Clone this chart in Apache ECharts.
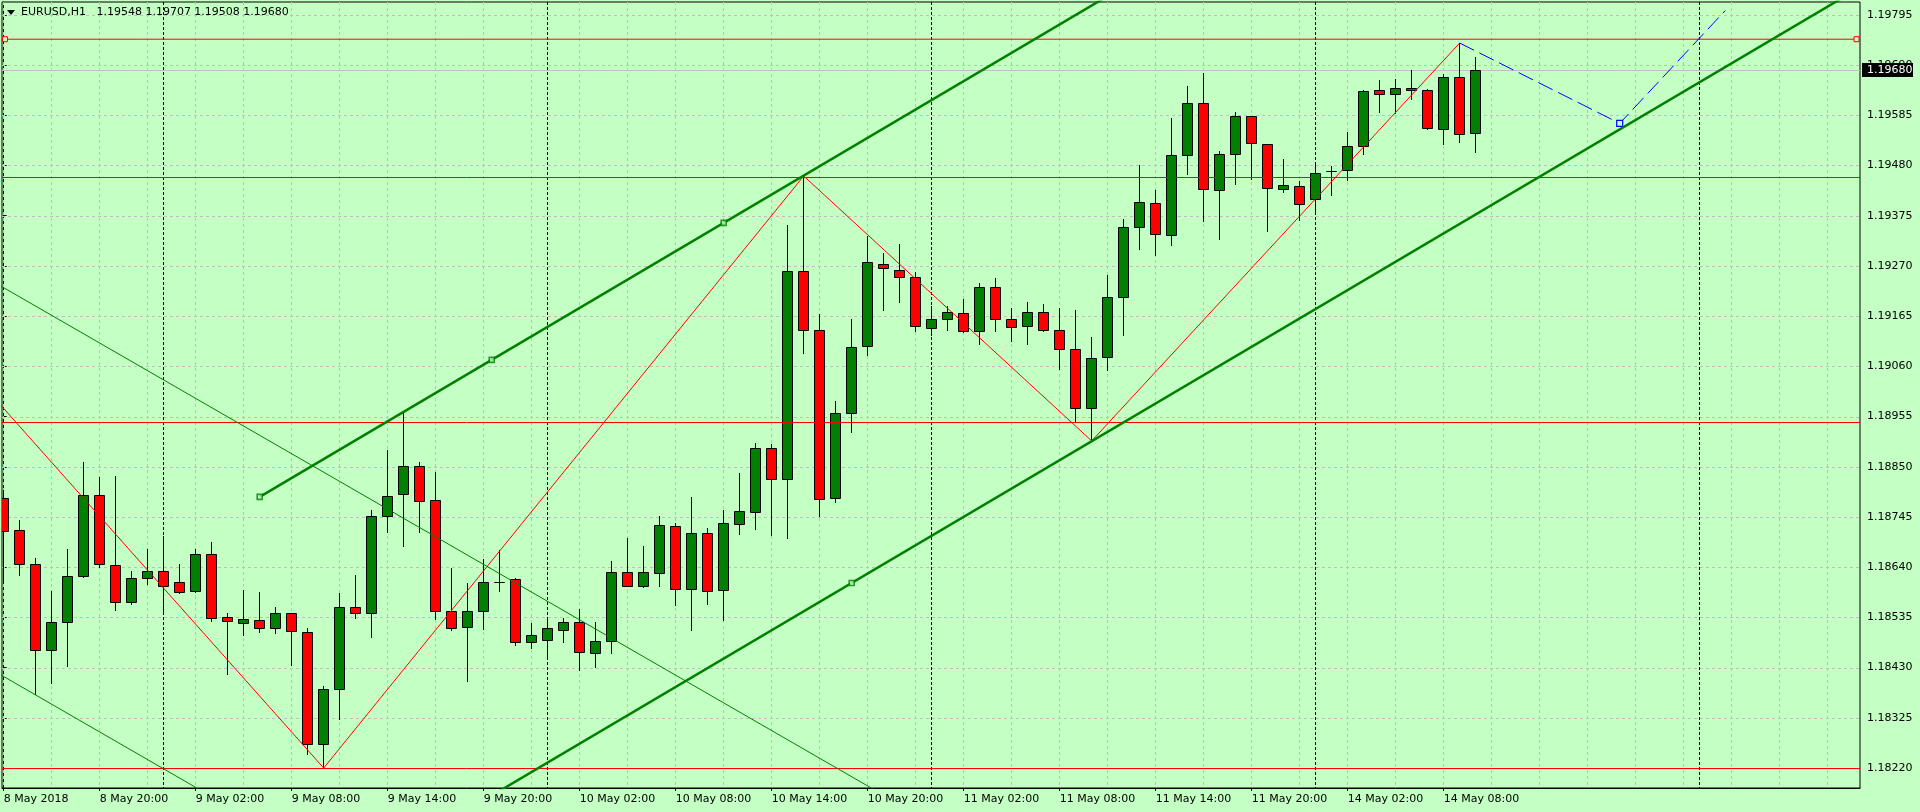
<!DOCTYPE html>
<html>
<head>
<meta charset="utf-8">
<script src="https://cdn.jsdelivr.net/npm/echarts@6/dist/echarts.min.js"></script>
<style>
html,body{margin:0;padding:0;background:#C4FFC4;}
#c{width:1920px;height:812px;}
</style>
</head>
<body>
<div id="c"></div>
<script>
// ---------- DATA (EURUSD H1, bar index 0 = 8 May 2018 14:00) ----------
const opens = [1.18784,1.18717,1.18646,1.18466,1.18525,1.18621,1.18790,1.18644,1.18568,1.18617,
1.18631,1.18610,1.18591,1.18667,1.18535,1.18524,1.18529,1.18513,1.18544,1.18504,
1.18271,1.18385,1.18556,1.18544,1.18746,1.18792,1.18851,1.18780,1.18548,1.18514,
1.18548,1.18608,1.18615,1.18483,1.18487,1.18508,1.18525,1.18460,1.18485,1.18629,
1.18600,1.18627,1.18726,1.18594,1.18711,1.18592,1.18730,1.18755,1.18889,1.18824,
1.19259,1.19135,1.18784,1.18962,1.19102,1.19275,1.19261,1.19246,1.19140,1.19159,
1.19171,1.19133,1.19225,1.19159,1.19144,1.19173,1.19137,1.19096,1.18972,1.19079,
1.19206,1.19351,1.19401,1.19334,1.19501,1.19610,1.19428,1.19505,1.19583,1.19524,
1.19430,1.19437,1.19409,1.19468,1.19470,1.19520,1.19637,1.19629,1.19641,1.19637,
1.19556,1.19664,1.19548];
const closes = [1.18716,1.18646,1.18466,1.18525,1.18622,1.18790,1.18646,1.18567,1.18617,1.18633,
1.18601,1.18589,1.18667,1.18534,1.18527,1.18531,1.18513,1.18544,1.18506,1.18271,
1.18385,1.18556,1.18544,1.18746,1.18788,1.18851,1.18778,1.18548,1.18512,1.18548,
1.18608,1.18608,1.18483,1.18498,1.18512,1.18525,1.18462,1.18485,1.18629,1.18600,
1.18629,1.18728,1.18594,1.18711,1.18590,1.18732,1.18757,1.18889,1.18824,1.19259,
1.19137,1.18782,1.18962,1.19100,1.19278,1.19265,1.19246,1.19144,1.19159,1.19173,
1.19133,1.19225,1.19159,1.19142,1.19173,1.19137,1.19096,1.18972,1.19077,1.19206,
1.19351,1.19403,1.19336,1.19501,1.19610,1.19430,1.19505,1.19583,1.19526,1.19432,
1.19439,1.19399,1.19464,1.19468,1.19520,1.19635,1.19629,1.19641,1.19637,1.19558,
1.19664,1.19545,1.19680];
const lows = [1.18609,1.18624,1.18375,1.18398,1.18434,1.18619,1.18641,1.18551,1.18562,1.18605,
1.18549,1.18587,1.18589,1.18527,1.18417,1.18499,1.18505,1.18502,1.18436,1.18250,
1.18220,1.18323,1.18534,1.18495,1.18714,1.18685,1.18714,1.18531,1.18508,1.18403,
1.18510,1.18590,1.18477,1.18472,1.18450,1.18483,1.18424,1.18432,1.18460,1.18600,
1.18598,1.18600,1.18560,1.18508,1.18562,1.18529,1.18709,1.18719,1.18707,1.18702,
1.19087,1.18746,1.18776,1.18922,1.19083,1.19177,1.19194,1.19133,1.19126,1.19135,
1.19131,1.19106,1.19133,1.19113,1.19106,1.19133,1.19054,1.18943,1.18905,1.19052,
1.19126,1.19305,1.19292,1.19313,1.19462,1.19363,1.19326,1.19441,1.19451,1.19344,
1.19424,1.19367,1.19381,1.19418,1.19449,1.19505,1.19591,1.19589,1.19618,1.19556,
1.19524,1.19530,1.19508];
const highs = [1.18801,1.18739,1.18659,1.18590,1.18678,1.18860,1.18829,1.18831,1.18632,1.18678,
1.18705,1.18647,1.18678,1.18693,1.18544,1.18592,1.18588,1.18557,1.18544,1.18512,
1.18391,1.18586,1.18624,1.18760,1.18885,1.18962,1.18859,1.18839,1.18638,1.18606,
1.18657,1.18675,1.18617,1.18523,1.18531,1.18533,1.18552,1.18525,1.18653,1.18702,
1.18684,1.18748,1.18732,1.18786,1.18721,1.18759,1.18838,1.18899,1.18897,1.19355,
1.19458,1.19170,1.18987,1.19159,1.19333,1.19296,1.19315,1.19257,1.19186,1.19186,
1.19200,1.19234,1.19244,1.19182,1.19194,1.19190,1.19182,1.19177,1.19121,1.19250,
1.19368,1.19482,1.19428,1.19579,1.19646,1.19673,1.19510,1.19591,1.19583,1.19524,
1.19493,1.19448,1.19482,1.19478,1.19549,1.19637,1.19658,1.19660,1.19679,1.19639,
1.19671,1.19736,1.19707];

const timeTickIdx = [0,6,12,18,24,30,36,42,48,54,60,66,72,78,84,90];
const timeTickLabels = ['8 May 2018','8 May 20:00','9 May 02:00','9 May 08:00','9 May 14:00','9 May 20:00',
  '10 May 02:00','10 May 08:00','10 May 14:00','10 May 20:00','11 May 02:00','11 May 08:00',
  '11 May 14:00','11 May 20:00','14 May 02:00','14 May 08:00'];
const priceTicks = [1.18220,1.18325,1.18430,1.18535,1.18640,1.18745,1.18850,1.18955,
  1.19060,1.19165,1.19270,1.19375,1.19480,1.19585,1.19690,1.19795];
const gridIdx = [];
for (let k = 0; k <= 114; k += 3) gridIdx.push(k);
const daySeparators = [10,34,58,82,106];

const levelLines = [1.19455, 1.18943, 1.18220];
const topLevel = 1.19744;
const topLevelEnds = [0.08, 115.8];
const zigzag = [[-2,1.19047],[20,1.18220],[50,1.19458],[68,1.18904],[91,1.19736]];
const forecast = [[91,1.19736],[101,1.19568],[107.6,1.19804]];
const upChannel = [[16,1.18787],[45,1.19360]];
const upChannelMid = 30.5;
const upChannelParallel = [53,1.18607];
const downLineA = [[-2,1.19263],[56,1.18144]];
const downLineB = [[-2,1.18450],[14,1.18141]];
const bidPrice = 1.19680;
const symbolName = 'EURUSD,H1';

// ---------- CHART ----------
const BG = '#C4FFC4';
const GRIDC = '#C3BCC3';
const FONT = 'DejaVu Sans';
const chart = echarts.init(document.getElementById('c'), null, {renderer: 'canvas'});

const candleData = opens.map((o, i) => [i, o, closes[i], lows[i], highs[i]]);

const slope = (upChannel[1][1] - upChannel[0][1]) / (upChannel[1][0] - upChannel[0][0]);
const xStart = upChannel[0][0], xEnd = 125;
const upperRay = [[xStart, upChannel[0][1]], [xEnd, upChannel[0][1] + slope * (xEnd - xStart)]];
const lowerRay = [[xStart, upChannelParallel[1] + slope * (xStart - upChannelParallel[0])],
                  [xEnd, upChannelParallel[1] + slope * (xEnd - upChannelParallel[0])]];
const upMarkers = [
  [upChannel[0][0], upChannel[0][1]],
  [upChannelMid, upChannel[0][1] + slope * (upChannelMid - upChannel[0][0])],
  [upChannel[1][0], upChannel[1][1]],
  [upChannelParallel[0], upChannelParallel[1]]
];

const X_MIN = -0.10625, X_MAX = -0.10625 + 1858 / 16;
const Y_MAX = 1.198218, Y_MIN = 1.181783;

function renderCandle(params, api) {
  const i = api.value(0), o = api.value(1), c = api.value(2), l = api.value(3), h = api.value(4);
  const pO = api.coord([i, o]), pC = api.coord([i, c]), pL = api.coord([i, l]), pH = api.coord([i, h]);
  const cx = Math.floor(pO[0]) + 0.5;
  const top = Math.round(Math.min(pO[1], pC[1])) + 0.5;
  const bot = Math.round(Math.max(pO[1], pC[1])) + 0.5;
  const fill = c > o ? '#008000' : (c < o ? '#FF0000' : '#000000');
  return {
    type: 'group',
    children: [
      {type: 'line', shape: {x1: cx, y1: Math.round(pH[1]), x2: cx, y2: Math.round(pL[1]) + 1},
       style: {stroke: '#000', lineWidth: 1}},
      {type: 'rect', shape: {x: cx - 5, y: top, width: 10, height: bot - top},
       style: {fill: fill, stroke: '#000', lineWidth: 1}}
    ]
  };
}

function hLineSeries(values, color, dash, z) {
  return {
    type: 'custom', silent: true, z: z, clip: true,
    data: values.map(p => [0, p]),
    renderItem: (params, api) => {
      const cs = params.coordSys;
      const y = Math.round(api.coord([api.value(0), api.value(1)])[1]) + 0.5;
      return {type: 'line', shape: {x1: cs.x, y1: y, x2: cs.x + cs.width, y2: y},
              style: {stroke: color, lineWidth: 1, lineDash: dash}};
    }
  };
}
function vLineSeries(values, color, dash, z) {
  return {
    type: 'custom', silent: true, z: z, clip: true,
    data: values.map(i => [i, (Y_MIN + Y_MAX) / 2]),
    renderItem: (params, api) => {
      const cs = params.coordSys;
      const x = Math.floor(api.coord([api.value(0), api.value(1)])[0]) + 0.5;
      return {type: 'line', shape: {x1: x, y1: cs.y, x2: x, y2: cs.y + cs.height},
              style: {stroke: color, lineWidth: 1, lineDash: dash}};
    }
  };
}

const option = {
  backgroundColor: BG,
  animation: false,
  textStyle: {fontFamily: FONT},
  grid: {left: 2, right: 60, top: 2, bottom: 24, show: true, borderColor: '#000', borderWidth: 1, backgroundColor: 'transparent'},
  xAxis: {
    type: 'value', min: X_MIN, max: X_MAX,
    splitLine: {show: false},
    axisLine: {show: true, onZero: false, lineStyle: {color: '#000', width: 1}},
    axisTick: {show: true, customValues: timeTickIdx, length: 3, lineStyle: {color: '#000'}},
    axisLabel: {
      customValues: timeTickIdx, align: 'left', margin: 6,
      color: '#000', fontFamily: FONT, fontSize: 11,
      formatter: v => { const k = timeTickIdx.indexOf(Math.round(v)); return k >= 0 ? timeTickLabels[k] : ''; }
    }
  },
  yAxis: {
    type: 'value', position: 'right', min: Y_MIN, max: Y_MAX,
    splitLine: {show: false},
    axisLine: {show: true, lineStyle: {color: '#000', width: 1}},
    axisTick: {show: true, customValues: priceTicks, length: 3, lineStyle: {color: '#000'}},
    axisLabel: {
      customValues: priceTicks, margin: 7, color: '#000', fontFamily: FONT, fontSize: 11,
      formatter: v => v.toFixed(5)
    }
  },
  series: [
    hLineSeries(priceTicks, GRIDC, [3, 3], 1),
    vLineSeries(gridIdx, GRIDC, [3, 3], 1),
    vLineSeries(daySeparators, '#000000', [3, 2], 2),
    hLineSeries([bidPrice], '#C0C0C0', null, 2),
    {
      type: 'custom', renderItem: renderCandle, data: candleData, z: 3, silent: true,
      encode: {x: 0, y: [1, 2, 3, 4]}, clip: true
    },
    hLineSeries(levelLines, '#FF0000', null, 4),
    {
      type: 'line', data: topLevelEnds.map(x => [x, topLevel]), z: 5, silent: true,
      lineStyle: {color: '#FF0000', width: 1}, symbol: 'rect', symbolSize: 5, showSymbol: true,
      itemStyle: {color: BG, borderColor: '#FF0000', borderWidth: 1}
    },
    {
      type: 'line', data: zigzag, z: 5, silent: true, clip: true,
      lineStyle: {color: '#FF0000', width: 1}, symbol: 'none'
    },
    {
      type: 'line', z: 5, silent: true, clip: true,
      data: forecast.map((p, k) => (k === 1 ? {value: p, symbol: 'rect', symbolSize: 6} : {value: p, symbol: 'none'})),
      lineStyle: {color: '#0000FF', width: 1, type: [16, 6]},
      itemStyle: {color: BG, borderColor: '#0000FF', borderWidth: 1.2}
    },
    {type: 'line', data: downLineA, z: 5, silent: true, clip: true, lineStyle: {color: '#008000', width: 1}, symbol: 'none'},
    {type: 'line', data: downLineB, z: 5, silent: true, clip: true, lineStyle: {color: '#008000', width: 1}, symbol: 'none'},
    {type: 'line', data: upperRay, z: 6, silent: true, clip: true, lineStyle: {color: '#008000', width: 2.5}, symbol: 'none'},
    {type: 'line', data: lowerRay, z: 6, silent: true, clip: true, lineStyle: {color: '#008000', width: 2.5}, symbol: 'none'},
    {
      type: 'scatter', data: upMarkers, z: 7, silent: true, symbol: 'rect', symbolSize: 5,
      itemStyle: {color: BG, borderColor: '#008000', borderWidth: 1.6}
    }
  ]
};
chart.setOption(option);

// header and current price label
const last = opens.length - 1;
const headerText = symbolName + '   ' + [opens[last], highs[last], lows[last], closes[last]].map(v => v.toFixed(5)).join(' ');
const bidY = chart.convertToPixel({yAxisIndex: 0}, bidPrice);
chart.setOption({
  graphic: [
    {type: 'polygon', shape: {points: [[7, 10], [15, 10], [11, 15]]}, style: {fill: '#000'}, z: 100},
    {type: 'text', x: 21, y: 12.5, style: {text: headerText, fill: '#000', font: '11px "DejaVu Sans"', verticalAlign: 'middle'}, z: 100},
    {type: 'rect', shape: {x: 1862, y: Math.round(bidY) - 7, width: 51, height: 14}, style: {fill: '#000'}, z: 100},
    {type: 'text', x: 1867, y: Math.round(bidY), style: {text: bidPrice.toFixed(5), fill: '#FFF', font: '11px "DejaVu Sans"', verticalAlign: 'middle'}, z: 101}
  ]
});
</script>
</body>
</html>
